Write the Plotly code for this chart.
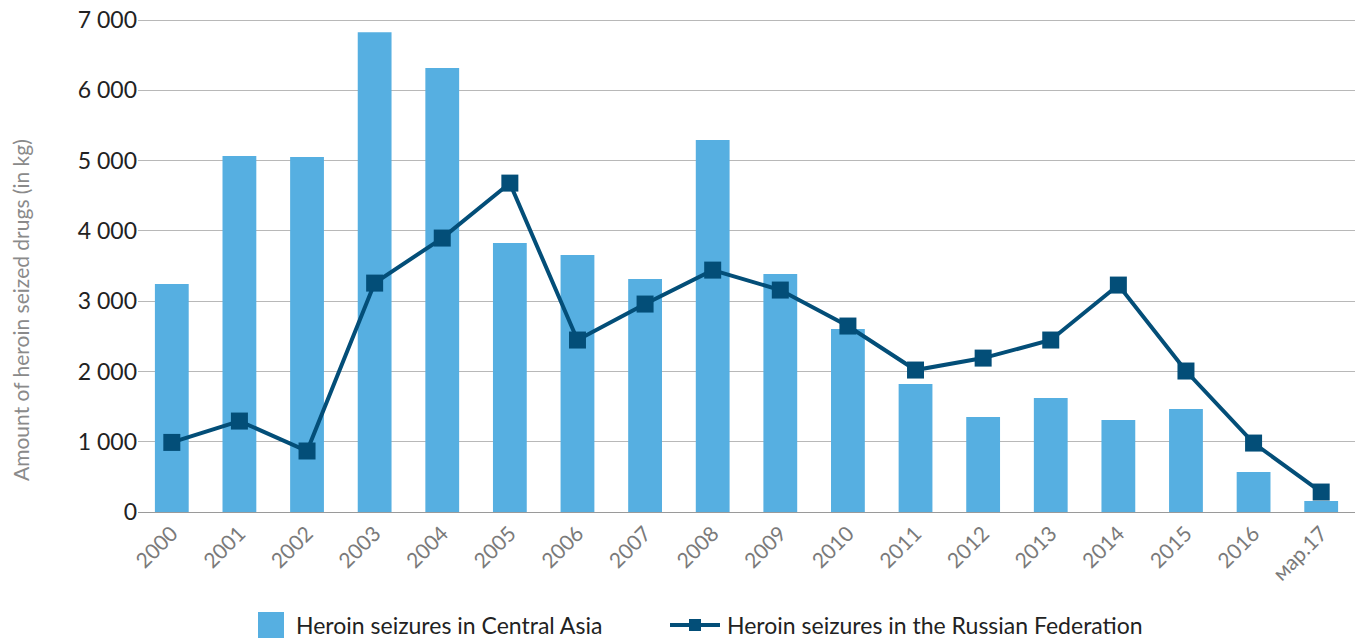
import plotly.graph_objects as go

categories = ["2000", "2001", "2002", "2003", "2004", "2005", "2006", "2007", "2008",
              "2009", "2010", "2011", "2012", "2013", "2014", "2015", "2016", "мар.17"]
central_asia = [3243, 5064, 5050, 6828, 6316, 3826, 3656, 3314, 5292,
                3385, 2603, 1821, 1351, 1622, 1309, 1465, 569, 156]
russia = [990, 1294, 868, 3257, 3898, 4680, 2447, 2959, 3442,
          3158, 2646, 2020, 2190, 2447, 3229, 2006, 981, 284]
y_ticks = [0, 1000, 2000, 3000, 4000, 5000, 6000, 7000]
name_bars = "Heroin seizures in Central Asia"
name_line = "Heroin seizures in the Russian Federation"
y_title = "Amount of heroin seized drugs (in kg)"

FONT = "Lato, 'Open Sans', sans-serif"
BAR_C = "#56AFE1"
LINE_C = "#034E78"

# page has an 8px body margin: the figure is drawn at (8, 8)
OFF = 8
W, H = 1367 - OFF, 640 - OFF
PL, PR, PT, PB = 138, 1355, 19, 512  # plot area in window pixels


def px(X):
    return (X - PL) / (PR - PL)


def py(Y):
    return (PB - Y) / (PB - PT)


fig = go.Figure()
fig.add_trace(go.Bar(
    x=categories, y=central_asia, name=name_bars,
    marker=dict(color=BAR_C, line=dict(width=0)),
))
fig.add_trace(go.Scatter(
    x=categories, y=russia, name=name_line,
    mode="lines+markers",
    line=dict(color=LINE_C, width=4),
    marker=dict(symbol="square", size=17, color=LINE_C),
))

shapes = [
    # legend: bar swatch
    dict(type="rect", xref="paper", yref="paper",
         x0=px(258), x1=px(284), y0=py(638), y1=py(612),
         fillcolor=BAR_C, line=dict(width=0)),
    # legend: line swatch
    dict(type="line", xref="paper", yref="paper",
         x0=px(670), x1=px(720), y0=py(625), y1=py(625),
         line=dict(color=LINE_C, width=4)),
    dict(type="rect", xref="paper", yref="paper",
         x0=px(689), x1=px(701), y0=py(631), y1=py(619),
         fillcolor=LINE_C, line=dict(width=0)),
]
annotations = [
    dict(text=name_bars, xref="paper", yref="paper", x=px(294), y=py(625),
         xanchor="left", yanchor="middle", showarrow=False,
         font=dict(size=23, color="#222222")),
    dict(text=name_line, xref="paper", yref="paper", x=px(725), y=py(625),
         xanchor="left", yanchor="middle", showarrow=False,
         font=dict(size=23, color="#222222")),
    dict(text=y_title, xref="paper", yref="paper", x=px(20), y=py(310),
         xanchor="center", yanchor="middle", showarrow=False, textangle=-90,
         font=dict(size=21, color="#8a8a8a")),
]

fig.update_layout(
    width=W, height=H,
    autosize=False,
    margin=dict(l=PL - OFF, r=W + OFF - PR, t=PT - OFF, b=H + OFF - PB, autoexpand=False),
    plot_bgcolor="white", paper_bgcolor="white",
    bargap=0.5,
    separators=". ",
    font=dict(family=FONT, color="#222222"),
    showlegend=False,
    shapes=shapes,
    annotations=annotations,
    xaxis=dict(
        range=[-0.5, len(categories) - 0.5],
        tickangle=-45, tickfont=dict(size=21, color="#7a7a7a"),
        showgrid=False, showline=True, linecolor="#9a9a9a", linewidth=1,
        ticks="", automargin=False,
    ),
    yaxis=dict(
        range=[0, 7015], tickvals=y_ticks, tickformat=",d",
        tickfont=dict(size=23, color="#222222"),
        ticklabeloverflow="allow",
        showgrid=True, gridcolor="#b8b8b8", gridwidth=1,
        zeroline=False, showline=False, ticks="", ticklen=0,
        automargin=False,
    ),
)

fig.write_html("out.html")
